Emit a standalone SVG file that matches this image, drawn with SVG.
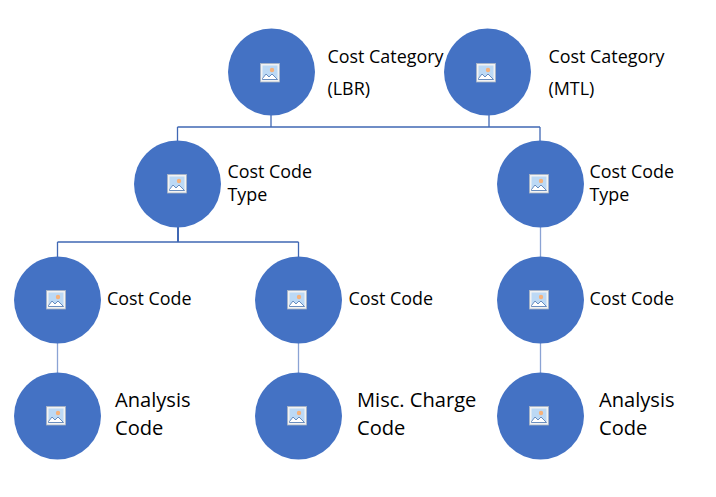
<svg xmlns="http://www.w3.org/2000/svg" xmlns:xlink="http://www.w3.org/1999/xlink" width="716" height="497" viewBox="0 0 716 497">
<style>
.c{fill:#4472c4}
.l{fill:none;stroke:#4068b4;stroke-width:1.3}
text{font-family:"Open Sans","Noto Sans","Liberation Sans",sans-serif;fill:#000;font-size:17.9px}
.b{font-size:20.1px}
</style>
<defs>
<g id="pic">
<rect x="-9.5" y="-9.5" width="19" height="18.5" fill="#f2f2f2" stroke="#a9b4c4" stroke-width="0.8"/>
<rect x="-7.5" y="-7.5" width="15" height="14" fill="#bcd9f5"/>
<circle cx="2" cy="-3" r="2.2" fill="#f6b27a"/>
<path d="M-7.5 5.5 L-4 1 L-1 4 L2 1 L6 5 L7.5 6.5 L-7.5 6.500Z" fill="#fff" stroke="#5b82b8" stroke-width="0.9"/>
</g>
</defs>
<g id="connectors">
<path class="l" d="M271 115V127M489 115V127M177.500 127H540M177.500 127V141M540 127V141"/>
<path class="l" d="M178 227V242" style="stroke-width:2"/>
<path class="l" d="M57.500 242H298.500M57.500 242V257M298.500 242V257"/>
<path class="l" d="M540.500 227V257M540.500 343V373M298.500 343V373M57.500 343V373" style="stroke:#8ba3d4"/>
</g>
<g id="n1"><circle class="c" cx="271.500" cy="72" r="43.500"/><use xlink:href="#pic" x="270" y="73"/><text x="327.500" y="63">Cost Category</text><text x="327.500" y="95">(LBR)</text></g>
<g id="n2"><circle class="c" cx="487.500" cy="72" r="43.500"/><use xlink:href="#pic" x="486" y="73"/><text x="548.500" y="63">Cost Category</text><text x="548.500" y="95">(MTL)</text></g>
<g id="n3"><circle class="c" cx="177.500" cy="184" r="43.500"/><use xlink:href="#pic" x="177" y="184"/><text x="227.500" y="178">Cost Code</text><text x="227.500" y="201">Type</text></g>
<g id="n4"><circle class="c" cx="540.500" cy="184" r="43.500"/><use xlink:href="#pic" x="539" y="184"/><text x="589.500" y="178">Cost Code</text><text x="589.500" y="201">Type</text></g>
<g id="n5"><circle class="c" cx="57.500" cy="300" r="43.500"/><use xlink:href="#pic" x="56" y="300"/><text x="107" y="305">Cost Code</text></g>
<g id="n6"><circle class="c" cx="298.500" cy="300" r="43.500"/><use xlink:href="#pic" x="297" y="300"/><text x="348.500" y="305">Cost Code</text></g>
<g id="n7"><circle class="c" cx="540.500" cy="300" r="43.500"/><use xlink:href="#pic" x="539" y="300"/><text x="589.500" y="305">Cost Code</text></g>
<g id="n8"><circle class="c" cx="57.500" cy="416" r="43.500"/><use xlink:href="#pic" x="56" y="416"/><text class="b" x="115" y="407">Analysis</text><text class="b" x="115" y="435">Code</text></g>
<g id="n9"><circle class="c" cx="298.500" cy="416" r="43.500"/><use xlink:href="#pic" x="297" y="416"/><text class="b" x="357" y="407">Misc. Charge</text><text class="b" x="357" y="435">Code</text></g>
<g id="n10"><circle class="c" cx="540.500" cy="416" r="43.500"/><use xlink:href="#pic" x="539" y="416"/><text class="b" x="599" y="407">Analysis</text><text class="b" x="599" y="435">Code</text></g>
</svg>
